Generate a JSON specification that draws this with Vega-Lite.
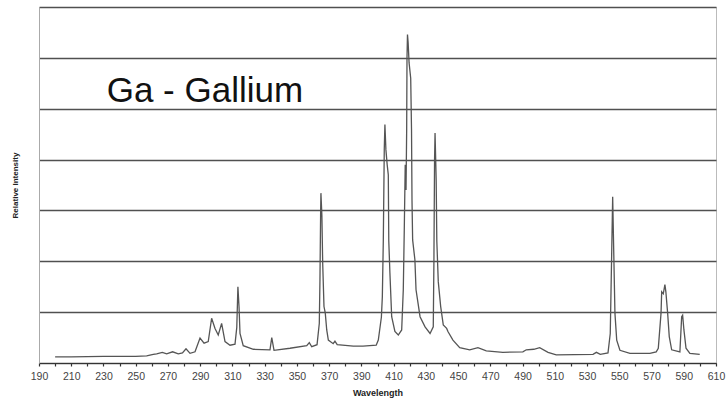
{
  "$schema": "https://vega.github.io/schema/vega-lite/v6.json",
  "autosize": {"type": "none"},
  "width": 677,
  "height": 356,
  "padding": {"left": 39, "top": 7, "right": 10, "bottom": 37},
  "background": "white",
  "config": {
    "view": {"stroke": "#bbbbbb", "strokeWidth": 1},
    "font": "Liberation Sans",
    "axis": {"labelOverlap": false}
  },
  "datasets": {
    "spectrum": [
      {"wl": 200, "v": 0.12}, {"wl": 210, "v": 0.12}, {"wl": 230, "v": 0.13}, {"wl": 250, "v": 0.13},
      {"wl": 256.8, "v": 0.14}, {"wl": 260.9, "v": 0.17}, {"wl": 263, "v": 0.18}, {"wl": 266.5, "v": 0.21},
      {"wl": 269.2, "v": 0.18}, {"wl": 272.9, "v": 0.22}, {"wl": 276.4, "v": 0.18}, {"wl": 279, "v": 0.2},
      {"wl": 281.2, "v": 0.28}, {"wl": 283.7, "v": 0.19}, {"wl": 286.8, "v": 0.22}, {"wl": 289.9, "v": 0.49},
      {"wl": 292.4, "v": 0.39}, {"wl": 295.0, "v": 0.42}, {"wl": 297.1, "v": 0.88}, {"wl": 299.2, "v": 0.68},
      {"wl": 301.2, "v": 0.55}, {"wl": 303.3, "v": 0.78}, {"wl": 305.4, "v": 0.42}, {"wl": 308.5, "v": 0.35},
      {"wl": 311.6, "v": 0.37}, {"wl": 312.7, "v": 0.7}, {"wl": 313.4, "v": 1.5}, {"wl": 314.1, "v": 1.1},
      {"wl": 314.7, "v": 0.58}, {"wl": 316.7, "v": 0.34}, {"wl": 323, "v": 0.27}, {"wl": 333.3, "v": 0.26},
      {"wl": 334.4, "v": 0.5}, {"wl": 335.8, "v": 0.25}, {"wl": 345.7, "v": 0.29}, {"wl": 356.1, "v": 0.34},
      {"wl": 357.7, "v": 0.4}, {"wl": 359.2, "v": 0.32}, {"wl": 362.5, "v": 0.36}, {"wl": 363.9, "v": 0.78},
      {"wl": 364.3, "v": 1.63}, {"wl": 364.7, "v": 2.9}, {"wl": 364.9, "v": 3.34}, {"wl": 365.5, "v": 2.9},
      {"wl": 366.0, "v": 1.96}, {"wl": 366.8, "v": 1.11}, {"wl": 367.6, "v": 0.98}, {"wl": 368.5, "v": 0.65},
      {"wl": 369.5, "v": 0.45}, {"wl": 372.5, "v": 0.38}, {"wl": 373.6, "v": 0.43}, {"wl": 375, "v": 0.36},
      {"wl": 385, "v": 0.33}, {"wl": 391, "v": 0.33}, {"wl": 399.2, "v": 0.35}, {"wl": 400.5, "v": 0.45},
      {"wl": 402.4, "v": 0.9}, {"wl": 403.0, "v": 1.3}, {"wl": 403.6, "v": 2.4}, {"wl": 404.2, "v": 4.2},
      {"wl": 404.6, "v": 4.69}, {"wl": 405.2, "v": 4.2}, {"wl": 406.0, "v": 3.9}, {"wl": 406.7, "v": 3.7},
      {"wl": 407.0, "v": 2.4}, {"wl": 407.7, "v": 1.77}, {"wl": 408.8, "v": 0.91}, {"wl": 410.8, "v": 0.62},
      {"wl": 412.9, "v": 0.55}, {"wl": 415, "v": 0.65}, {"wl": 416.0, "v": 1.44}, {"wl": 416.6, "v": 2.6},
      {"wl": 417.2, "v": 3.9}, {"wl": 417.7, "v": 3.4}, {"wl": 418.1, "v": 4.6}, {"wl": 418.3, "v": 6.0},
      {"wl": 418.6, "v": 6.46}, {"wl": 419.0, "v": 6.3}, {"wl": 419.6, "v": 5.9}, {"wl": 420.6, "v": 5.6},
      {"wl": 421.1, "v": 4.6}, {"wl": 421.4, "v": 3.2}, {"wl": 421.8, "v": 2.42}, {"wl": 423.2, "v": 2.03},
      {"wl": 423.9, "v": 1.44}, {"wl": 426.4, "v": 0.91}, {"wl": 429.5, "v": 0.71}, {"wl": 432.6, "v": 0.58},
      {"wl": 434.6, "v": 0.71}, {"wl": 435.0, "v": 2.0}, {"wl": 435.4, "v": 4.0}, {"wl": 435.7, "v": 4.52},
      {"wl": 436.1, "v": 4.0}, {"wl": 436.4, "v": 3.6}, {"wl": 436.8, "v": 2.4}, {"wl": 437.7, "v": 1.6},
      {"wl": 439.2, "v": 1.11}, {"wl": 440.8, "v": 0.75}, {"wl": 442.9, "v": 0.68}, {"wl": 443.7, "v": 0.62},
      {"wl": 446.8, "v": 0.45}, {"wl": 451, "v": 0.3}, {"wl": 457.2, "v": 0.26}, {"wl": 462.3, "v": 0.3},
      {"wl": 467.5, "v": 0.24}, {"wl": 477.8, "v": 0.21}, {"wl": 490.2, "v": 0.22}, {"wl": 492.3, "v": 0.26},
      {"wl": 497, "v": 0.27}, {"wl": 500.6, "v": 0.3}, {"wl": 505.8, "v": 0.21}, {"wl": 510.9, "v": 0.16},
      {"wl": 533.7, "v": 0.17}, {"wl": 535.8, "v": 0.21}, {"wl": 538.2, "v": 0.17}, {"wl": 543, "v": 0.2},
      {"wl": 544.4, "v": 0.58}, {"wl": 545.2, "v": 2.0}, {"wl": 545.9, "v": 3.27}, {"wl": 546.7, "v": 1.96},
      {"wl": 547.3, "v": 0.98}, {"wl": 548.4, "v": 0.45}, {"wl": 550.4, "v": 0.25}, {"wl": 556.6, "v": 0.19},
      {"wl": 569, "v": 0.19}, {"wl": 572.9, "v": 0.22}, {"wl": 574.2, "v": 0.29}, {"wl": 575.9, "v": 0.98},
      {"wl": 576.3, "v": 1.4}, {"wl": 577.3, "v": 1.36}, {"wl": 578.3, "v": 1.54}, {"wl": 578.9, "v": 1.4},
      {"wl": 580.0, "v": 0.98}, {"wl": 581.0, "v": 0.52}, {"wl": 582.5, "v": 0.26}, {"wl": 587.6, "v": 0.22},
      {"wl": 588.7, "v": 0.91}, {"wl": 589.3, "v": 0.94}, {"wl": 590.1, "v": 0.65}, {"wl": 591.4, "v": 0.29},
      {"wl": 593.8, "v": 0.19}, {"wl": 599.9, "v": 0.17}
    ],
    "label": [{"text": "Ga - Gallium", "wl": 232, "v": 5.14}]
  },
  "layer": [
    {
      "data": {"name": "spectrum"},
      "mark": {"type": "line", "color": "#555555", "strokeWidth": 1.3},
      "encoding": {
        "x": {
          "field": "wl", "type": "quantitative",
          "scale": {"domain": [190, 610], "nice": false, "zero": false},
          "axis": {
            "title": "Wavelength",
            "titleFont": "Liberation Sans", "titleFontSize": 9, "titleFontWeight": "bold", "titleColor": "#222222",
            "titleY": 25, "titleBaseline": "top",
            "values": [190,200,210,220,230,240,250,260,270,280,290,300,310,320,330,340,350,360,370,380,390,400,410,420,430,440,450,460,470,480,490,500,510,520,530,540,550,560,570,580,590,600,610],
            "tickCount": 60,
            "labelExpr": "datum.value % 20 == 10 ? format(datum.value, 'd') : ''",
            "labelFont": "Liberation Sans", "labelFontSize": 10.5, "labelColor": "#444444",
            "labelPadding": 5, "labelOverlap": false, "labelBound": false, "labelFlush": false,
            "tickSize": 3, "tickColor": "#333333", "tickWidth": 1.2,
            "domainColor": "#333333", "domainWidth": 1.2,
            "grid": false
          }
        },
        "y": {
          "field": "v", "type": "quantitative",
          "scale": {"domain": [0, 7], "nice": false},
          "axis": {
            "title": "Relative Intensity",
            "titleFont": "Liberation Sans", "titleFontSize": 8, "titleFontWeight": "bold", "titleColor": "#222222",
            "titleX": -20,
            "values": [0, 1, 2, 3, 4, 5, 6, 7],
            "labels": false, "ticks": false,
            "domainColor": "#aaaaaa", "domainWidth": 1,
            "grid": true, "gridColor": "#505050", "gridWidth": 1.5
          }
        }
      }
    },
    {
      "data": {"name": "label"},
      "mark": {"type": "text", "align": "left", "baseline": "alphabetic", "font": "Liberation Sans", "fontSize": 35, "color": "#111111"},
      "encoding": {
        "x": {"field": "wl", "type": "quantitative"},
        "y": {"field": "v", "type": "quantitative"},
        "text": {"field": "text"}
      }
    }
  ]
}
